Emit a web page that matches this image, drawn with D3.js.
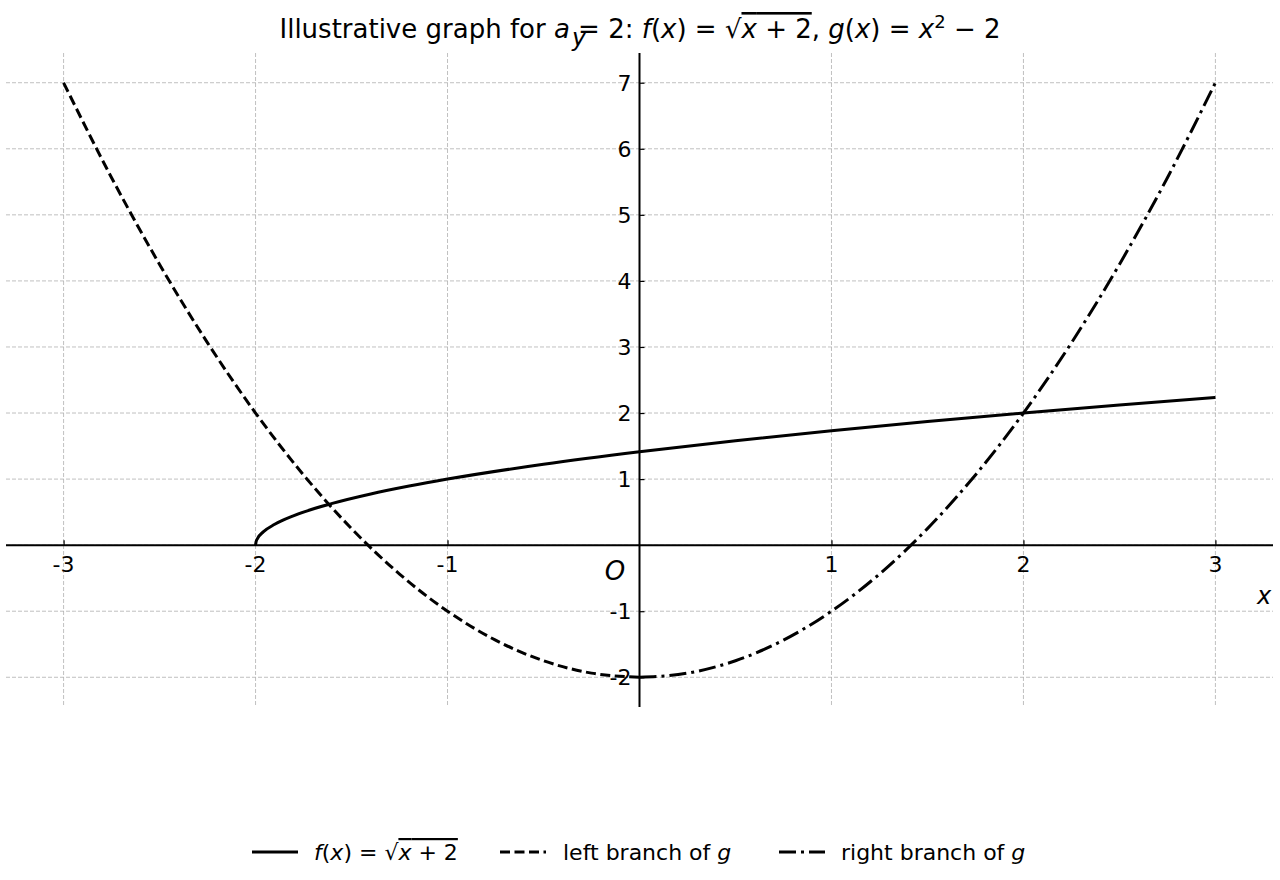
<!DOCTYPE html>
<html>
<head>
<meta charset="utf-8">
<script src="https://cdn.jsdelivr.net/npm/d3@7"></script>
<style>
  body { margin: 0; background: #fff; }
  text { font-family: "DejaVu Sans", sans-serif; fill: #000; }
</style>
</head>
<body>
<svg id="chart" width="1280" height="880"></svg>
<script>
// data
var fX = [-2, -1.9975, -1.99, -1.96, -1.9, -1.8, -1.6, -1.4, -1.2, -1, -0.5, 0, 0.5, 1, 1.5, 2, 2.5, 3];
var fY = [0, 0.05, 0.1, 0.2, 0.316, 0.447, 0.632, 0.775, 0.894, 1, 1.225, 1.414, 1.581, 1.732, 1.871, 2, 2.121, 2.236];
var gLeftX = [-3, -2.75, -2.5, -2.25, -2, -1.75, -1.5, -1.25, -1, -0.75, -0.5, -0.25, 0];
var gLeftY = [7, 5.5625, 4.25, 3.0625, 2, 1.0625, 0.25, -0.4375, -1, -1.4375, -1.75, -1.9375, -2];
var gRightX = [0, 0.25, 0.5, 0.75, 1, 1.25, 1.5, 1.75, 2, 2.25, 2.5, 2.75, 3];
var gRightY = [-2, -1.9375, -1.75, -1.4375, -1, -0.4375, 0.25, 1.0625, 2, 3.0625, 4.25, 5.5625, 7];
var xTicks = [-3, -2, -1, 1, 2, 3];
var yTicks = [-2, -1, 1, 2, 3, 4, 5, 6, 7];
var gridX = [-3, -2, -1, 0, 1, 2, 3];
var gridY = [-2, -1, 0, 1, 2, 3, 4, 5, 6, 7];

var svg = d3.select("#chart");
var pLeft = 6, pRight = 1273, pTop = 53, pBottom = 707;
var dashG = "10,4.5", dashDot = "17,5,3,5";

var x = d3.scaleLinear().domain([-3.3, 3.3]).range([pLeft, pRight]);
var y = d3.scaleLinear().domain([-2.45, 7.45]).range([pBottom, pTop]);

//grid
svg.append("g").selectAll("line").data(gridX).enter().append("line")
  .attr("x1", function (d) { return x(d); }).attr("x2", function (d) { return x(d); })
  .attr("y1", pTop).attr("y2", pBottom)
  .style("stroke", "#b0b0b0").style("stroke-width", 0.8).style("stroke-dasharray", "4,2");
svg.append("g").selectAll("line").data(gridY).enter().append("line")
  .attr("y1", function (d) { return y(d); }).attr("y2", function (d) { return y(d); })
  .attr("x1", pLeft).attr("x2", pRight)
  .style("stroke", "#b0b0b0").style("stroke-width", 0.8).style("stroke-dasharray", "4,2");

//axes through origin
var xAxis = d3.axisTop(x).tickValues(xTicks).tickSize(5).tickFormat("");
var gx = svg.append("g").attr("transform", "translate(0," + y(0) + ")").call(xAxis);
gx.select(".domain").attr("d", "M" + pLeft + ",0H" + pRight).style("stroke-width", 2);
gx.selectAll(".tick line").style("stroke-width", 1.2);

var yAxis = d3.axisRight(y).tickValues(yTicks).tickSize(5).tickFormat("");
var gy = svg.append("g").attr("transform", "translate(" + x(0) + ",0)").call(yAxis);
gy.select(".domain").attr("d", "M0," + pTop + "V" + pBottom).style("stroke-width", 2);
gy.selectAll(".tick line").style("stroke-width", 1.2);

//tick labels
svg.append("g").selectAll("text").data(xTicks).enter().append("text")
  .attr("x", function (d) { return x(d); })
  .attr("y", y(0) + 27)
  .style("text-anchor", "middle").style("font-size", "22px")
  .text(function (d) { return d; });
svg.append("g").selectAll("text").data(yTicks).enter().append("text")
  .attr("x", x(0) - 8)
  .attr("y", function (d) { return y(d) + 8; })
  .style("text-anchor", "end").style("font-size", "22px")
  .text(function (d) { return d; });

svg.append("text").attr("x", 615).attr("y", 580).style("text-anchor", "middle")
  .style("font-size", "26px").style("font-style", "italic").text("O");
svg.append("text").attr("x", 1264).attr("y", 604).style("text-anchor", "middle")
  .style("font-size", "24px").style("font-style", "italic").text("x");
svg.append("text").attr("x", 579).attr("y", 46).style("text-anchor", "middle")
  .style("font-size", "24px").style("font-style", "italic").text("y");

//curves
function pts(xs, ys) { return xs.map(function (d, i) { return [d, ys[i]]; }); }
var line = d3.line()
  .x(function (d) { return x(d[0]); })
  .y(function (d) { return y(d[1]); })
  .curve(d3.curveMonotoneX);

var series = [
  { data: pts(fX, fY), dash: null },
  { data: pts(gLeftX, gLeftY), dash: dashG },
  { data: pts(gRightX, gRightY), dash: dashDot }
];
svg.append("g").selectAll("path").data(series).enter().append("path")
  .attr("d", function (d) { return line(d.data); })
  .style("fill", "none").style("stroke", "#000").style("stroke-width", 3)
  .style("stroke-dasharray", function (d) { return d.dash; });

//title
var title = svg.append("text").attr("x", 640).attr("y", 38)
  .style("text-anchor", "middle").style("font-size", "26px");
title.append("tspan").text("Illustrative graph for ");
title.append("tspan").style("font-style", "italic").text("a");
title.append("tspan").text(" = 2: ");
title.append("tspan").style("font-style", "italic").text("f");
title.append("tspan").text("(");
title.append("tspan").style("font-style", "italic").text("x");
title.append("tspan").text(") = √");
title.append("tspan").style("text-decoration", "overline").html("<tspan style='font-style:italic'>x</tspan> + 2");
title.append("tspan").text(", ");
title.append("tspan").style("font-style", "italic").text("g");
title.append("tspan").text("(");
title.append("tspan").style("font-style", "italic").text("x");
title.append("tspan").text(") = ");
title.append("tspan").style("font-style", "italic").text("x");
title.append("tspan").attr("dy", -10).style("font-size", "18px").text("2");
title.append("tspan").attr("dy", 10).text(" − 2");

//legend
var legendY = 852;
var legendItems = [
  { x1: 252, dash: null, tx: 314, parts: [["f", 1], ["(", 0], ["x", 1], [") = √", 0], ["x + 2", 2]] },
  { x1: 500, dash: dashG, tx: 563, parts: [["left branch of ", 0], ["g", 1]] },
  { x1: 779, dash: dashDot, tx: 841, parts: [["right branch of ", 0], ["g", 1]] }
];
var lg = svg.append("g").selectAll("g").data(legendItems).enter().append("g");
lg.append("line")
  .attr("x1", function (d) { return d.x1; }).attr("x2", function (d) { return d.x1 + 46; })
  .attr("y1", legendY).attr("y2", legendY)
  .style("stroke", "#000").style("stroke-width", 3)
  .style("stroke-dasharray", function (d) { return d.dash; });
lg.each(function (d) {
  var t = d3.select(this).append("text").attr("x", d.tx).attr("y", legendY + 8).style("font-size", "22px");
  d.parts.forEach(function (p) {
    if (p[1] === 2) {
      t.append("tspan").style("text-decoration", "overline")
        .html("<tspan style='font-style:italic'>x</tspan> + 2");
    } else {
      t.append("tspan").style("font-style", p[1] ? "italic" : "normal").text(p[0]);
    }
  });
});
</script>
</body>
</html>
